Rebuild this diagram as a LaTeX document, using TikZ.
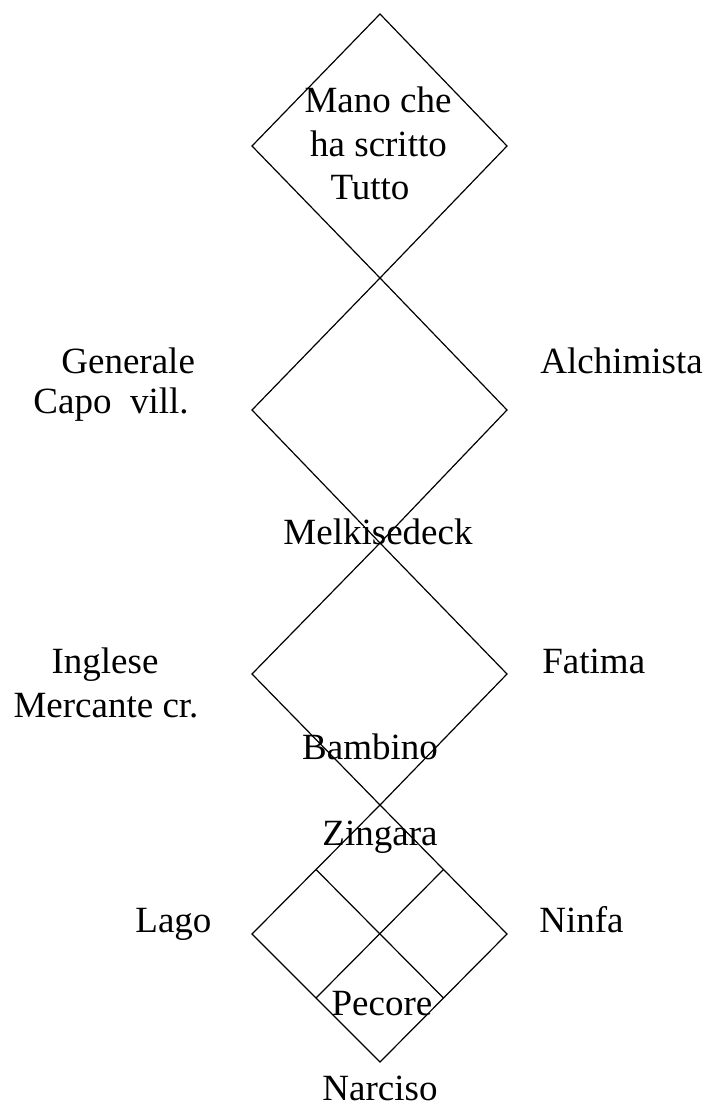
\documentclass[tikz,border=0pt]{standalone}
\usepackage{fontspec}
\setmainfont{Liberation Serif}
\usetikzlibrary{calc}
\tikzset{
  lbl/.style={font=\fontsize{18.5}{22}\selectfont, inner sep=0pt},
  edge/.style={line width=0.6pt, line join=miter}
}
\begin{document}
\begin{tikzpicture}[x=0.5pt,y=-0.5pt]
		\useasboundingbox (0,0) rectangle (707,1106);
		\coordinate (T) at (380,14);
		\coordinate (K1) at (380,278);
		\coordinate (K2) at (380,543);
		\coordinate (K3) at (380,805);
		\coordinate (B) at (380,1062);
		\coordinate (L1) at (252,146);
		\coordinate (R1) at (507,146);
		\coordinate (L2) at (252,410);
		\coordinate (R2) at (507,410);
		\coordinate (L3) at (252,674);
		\coordinate (R3) at (507,674);
		\coordinate (L4) at (252,934);
		\coordinate (R4) at (507,934);
		\draw[edge] (T) to (R1) to (K1) to (L1) to cycle;
		\draw[edge] (K1) to (R2) to (K2) to (L2) to cycle;
		\draw[edge] (K2) to (R3) to (K3) to (L3) to cycle;
		\draw[edge] (K3) to (R4) to (B) to (L4) to cycle;
		\draw[edge] ($(K3)!0.5!(L4)$) to ($(R4)!0.5!(B)$);
		\draw[edge] ($(K3)!0.5!(R4)$) to ($(L4)!0.5!(B)$);
		% labels
		\node[lbl,anchor=base] (mano) at (378,113) {Mano che};
		\node[lbl,anchor=base] (scritto) at (378.5,157) {ha scritto};
		\node[lbl,anchor=base] (tutto) at (370,200) {Tutto};
		\node[lbl,anchor=base west] (generale) at (61,373) {Generale};
		\node[lbl,anchor=base west] (capo) at (33,414) {Capo\ \ vill.};
		\node[lbl,anchor=base west] (alchimista) at (540,373) {Alchimista};
		\node[lbl,anchor=base] (melki) at (378,544) {Melkisedeck};
		\node[lbl,anchor=base] (inglese) at (105,673) {Inglese};
		\node[lbl,anchor=base] (mercante) at (106,717) {Mercante cr.};
		\node[lbl,anchor=base west] (fatima) at (542,673) {Fatima};
		\node[lbl,anchor=base] (bambino) at (370,759) {Bambino};
		\node[lbl,anchor=base] (zingara) at (380,845) {Zingara};
		\node[lbl,anchor=base west] (lago) at (135,932) {Lago};
		\node[lbl,anchor=base west] (ninfa) at (539,932) {Ninfa};
		\node[lbl,anchor=base] (pecore) at (382,1015) {Pecore};
		\node[lbl,anchor=base] (narciso) at (380,1100) {Narciso};
	\end{tikzpicture}
\end{document}
